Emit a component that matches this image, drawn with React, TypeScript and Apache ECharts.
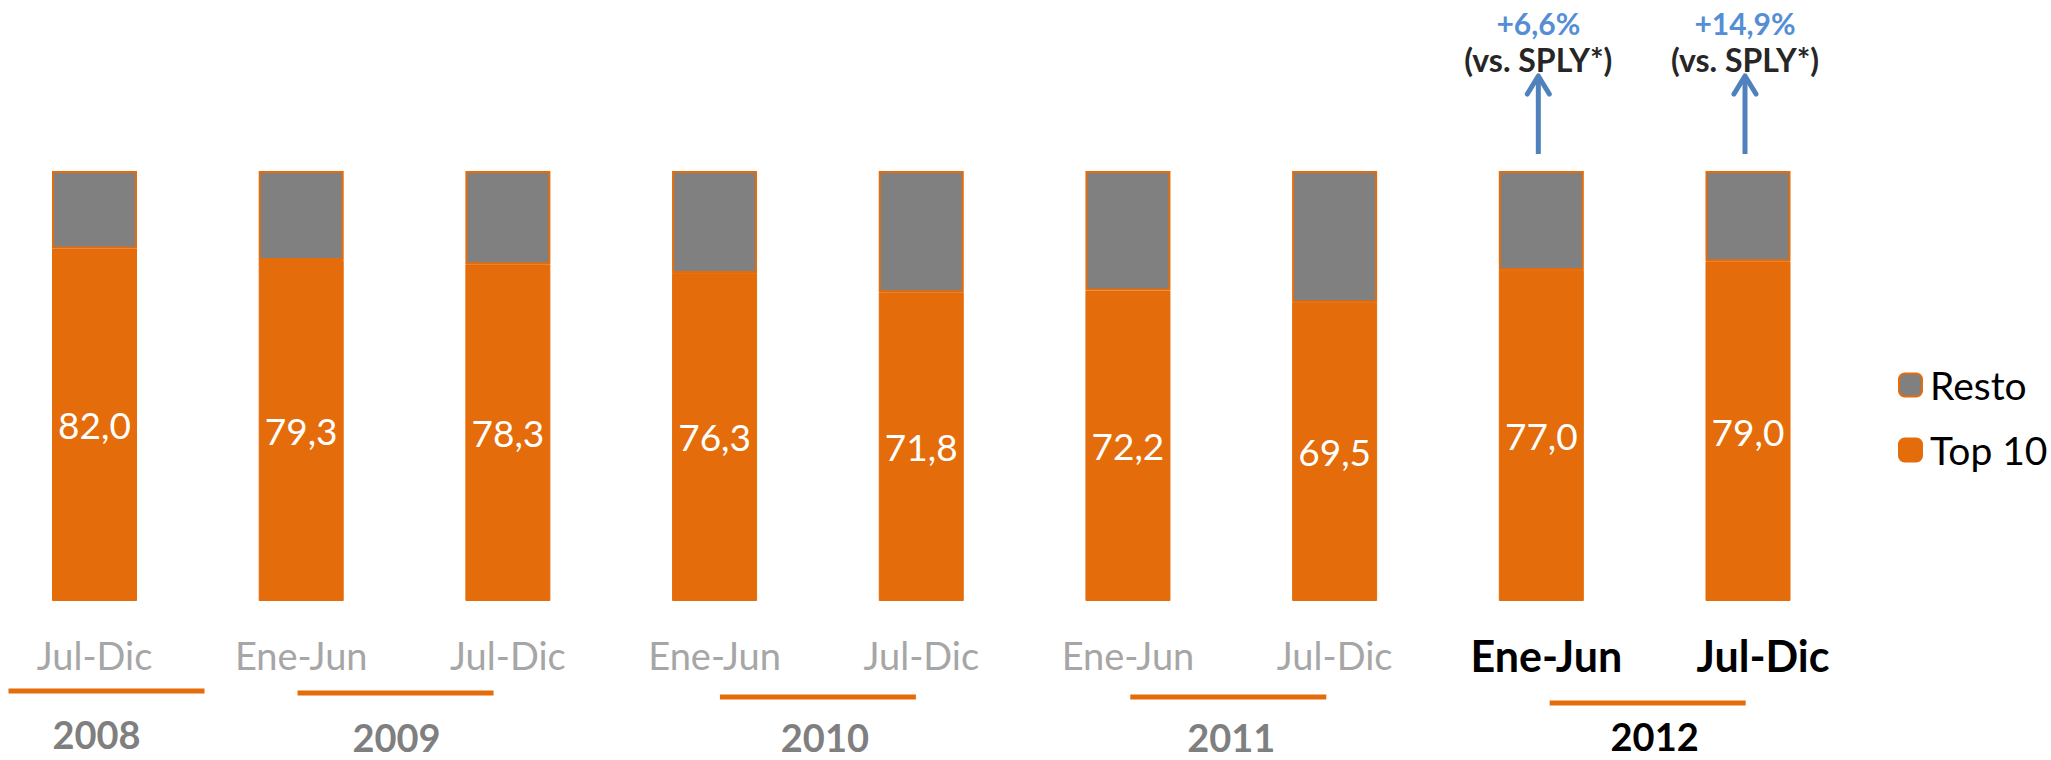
import React, { useEffect, useRef } from "react";
import * as echarts from "echarts";

// ---- data ----
const periods = ["Jul-Dic", "Ene-Jun", "Jul-Dic", "Ene-Jun", "Jul-Dic", "Ene-Jun", "Jul-Dic", "Ene-Jun", "Jul-Dic"];
const periodYears = ["2008", "2009", "2009", "2010", "2010", "2011", "2011", "2012", "2012"];
const top10 = [82.0, 79.3, 78.3, 76.3, 71.8, 72.2, 69.5, 77.0, 79.0];
const resto = [18.0, 20.7, 21.7, 23.7, 28.2, 27.8, 30.5, 23.0, 21.0];
const years = ["2008", "2009", "2010", "2011", "2012"];
const yearSpans = [[0, 0], [1, 2], [3, 4], [5, 6], [7, 8]];
const highlightStart = 7;
const growthIdx = [7, 8];
const growthLabels = ["+6,6%", "+14,9%"];
const growthNote = "(vs. SPLY*)";

const categories = periods.map((p, i) => `${periodYears[i]} ${p}`);

const FONT = "Lato, 'Open Sans', sans-serif";
const ORANGE = "#E46C0A";
const GRAY = "#808080";

export default function App() {
  const ref = useRef<HTMLDivElement>(null);

  useEffect(() => {
    document.body.style.margin = "0";
    if (!ref.current) return;
    const chart = echarts.init(ref.current, null, { renderer: "svg" });

    const option: any = {
      animation: false,
      backgroundColor: "#ffffff",
      grid: { left: 94.5, right: 303, top: 171, bottom: 159, containLabel: false },
      legend: {
        data: ["Resto", "Top 10"],
        orient: "vertical",
        left: 1898,
        top: 365,
        itemWidth: 23,
        itemHeight: 23,
        itemGap: 25,
        padding: 0,
        textStyle: { fontFamily: FONT, fontSize: 39, color: "#000", lineHeight: 40, padding: [0, 0, 0, 3] },
      },
      xAxis: {
        type: "category",
        data: categories,
        boundaryGap: false,
        axisLine: { show: false },
        axisTick: { show: false },
        splitLine: { show: false },
        axisLabel: {
          interval: 0,
          margin: 34,
          formatter: (_v: string, i: number) => {
            if (i < highlightStart) return `{g|${periods[i]}}`;
            return i === highlightStart ? `{b|${periods[i]}}` : `{b2|${periods[i]}}`;
          },
          rich: {
            g: { fontFamily: FONT, fontSize: 38, color: "#A6A6A6", lineHeight: 40 },
            b: { fontFamily: FONT, fontSize: 43, fontWeight: "bold", color: "#000", lineHeight: 40, padding: [0, 0, 0, 10] },
            b2: { fontFamily: FONT, fontSize: 43, fontWeight: "bold", color: "#000", lineHeight: 40, padding: [0, 0, 0, 30] },
          },
        },
      },
      yAxis: {
        type: "value",
        min: 0,
        max: 100,
        show: false,
        splitLine: { show: false },
      },
      series: [
        {
          name: "Top 10",
          type: "bar",
          stack: "total",
          barWidth: 85,
          data: top10,
          itemStyle: { color: ORANGE, borderColor: ORANGE, borderWidth: 1 },
          label: {
            show: true,
            position: "inside",
            color: "#ffffff",
            fontFamily: FONT,
            fontSize: 37,
            formatter: (p: any) => Number(p.value).toFixed(1).replace(".", ","),
          },
        },
        {
          name: "Resto",
          type: "bar",
          stack: "total",
          barWidth: 85,
          data: resto,
          itemStyle: { color: GRAY, borderColor: ORANGE, borderWidth: 2 },
        },
      ],
    };

    chart.setOption(option);

    const px = (i: number) => chart.convertToPixel({ xAxisIndex: 0 }, i) as number;
    const graphics: any[] = [];

    // year groups
    const lineNudge = [12, -9, 0, -3, 3];
    const textNudge = [2, -8, 7, 0, 10];
    const lineY = [691, 693, 697, 697, 703];
    const textY = [734, 737, 737, 737, 736];
    years.forEach((y, k) => {
      const [a, b] = yearSpans[k];
      const mid = (px(a) + px(b)) / 2;
      const lc = mid + lineNudge[k];
      graphics.push({
        type: "line",
        shape: { x1: lc - 98, y1: lineY[k], x2: lc + 98, y2: lineY[k] },
        style: { stroke: ORANGE, lineWidth: 5 },
      });
      const hl = a >= highlightStart;
      graphics.push({
        type: "text",
        x: mid + textNudge[k],
        y: textY[k],
        style: {
          text: y,
          fontFamily: FONT,
          fontSize: 38,
          lineHeight: 30,
          fontWeight: "bold",
          fill: hl ? "#000000" : "#7F7F7F",
          align: "center",
          verticalAlign: "middle",
        },
      });
    });

    // separator
    const sepX = (px(highlightStart - 1) + px(highlightStart)) / 2 - 2;
    graphics.push({
      type: "line",
      shape: { x1: sepX, y1: 18, x2: sepX, y2: 673 },
      style: {
        stroke: "#7F7F7F",
        lineWidth: 5,
        shadowBlur: 4,
        shadowOffsetX: 2,
        shadowOffsetY: 2,
        shadowColor: "rgba(0,0,0,0.3)",
      },
    });

    // growth annotations
    growthIdx.forEach((idx, k) => {
      const x = px(idx) - 3;
      graphics.push({
        type: "text",
        x,
        y: 23,
        style: {
          text: growthLabels[k],
          fontFamily: FONT,
          fontSize: 30,
          fontWeight: "bold",
          fill: "#558ED5",
          align: "center",
          verticalAlign: "middle",
        },
      });
      graphics.push({
        type: "text",
        x,
        y: 59,
        style: {
          text: growthNote,
          fontFamily: FONT,
          fontSize: 32,
          fontWeight: "bold",
          fill: "#262626",
          align: "center",
          verticalAlign: "middle",
        },
      });
      graphics.push({
        type: "line",
        shape: { x1: x, y1: 154, x2: x, y2: 77 },
        style: { stroke: "#4F81BD", lineWidth: 5 },
      });
      graphics.push({
        type: "polyline",
        shape: { points: [[x - 11, 94], [x, 76], [x + 11, 94]] },
        style: { stroke: "#4F81BD", lineWidth: 5, lineCap: "round", lineJoin: "round", fill: "none" },
      });
    });

    chart.setOption({ graphic: graphics });

    return () => {
      chart.dispose();
    };
  }, []);

  return <div ref={ref} style={{ width: 2051, height: 760 }} />;
}
